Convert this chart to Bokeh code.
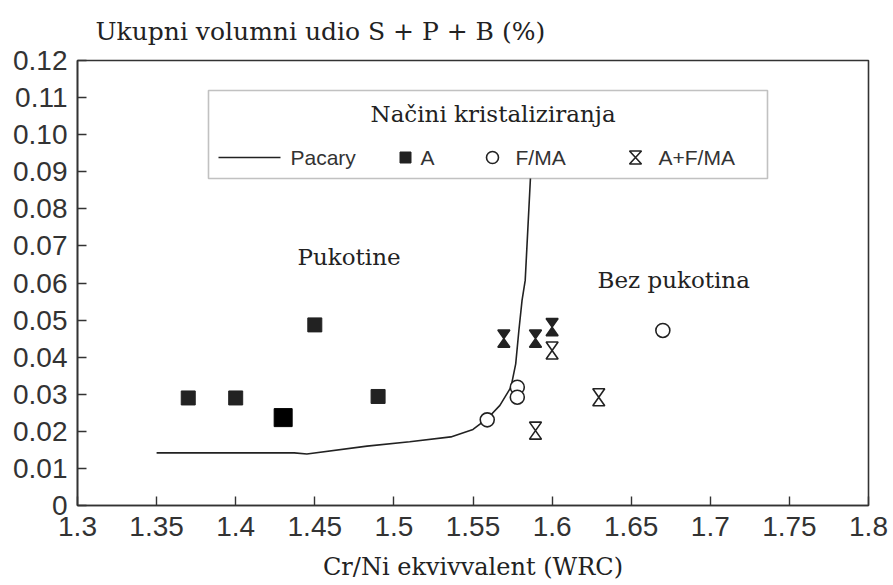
from bokeh.plotting import figure
from bokeh.models import Label, FixedTicker, Range1d, BoxAnnotation, ColumnDataSource, Title
from bokeh.embed import file_html
from bokeh.resources import INLINE

# ---------------- data ----------------
# Pacary boundary line
pacary_x = [1.35, 1.437, 1.445, 1.483, 1.51, 1.536, 1.55, 1.559, 1.567, 1.574, 1.577, 1.579, 1.581, 1.583, 1.5863]
pacary_y = [0.0142, 0.0142, 0.0139, 0.0160, 0.0172, 0.0185, 0.0205, 0.0234, 0.0270, 0.0319, 0.0382, 0.0472, 0.0553, 0.0607, 0.0882]

# A (austenitic)
a_x = [1.37, 1.40, 1.45, 1.49]
a_y = [0.0290, 0.0290, 0.0487, 0.0294]
a_big_x = [1.43]
a_big_y = [0.0237]

# F/MA
fma_x = [1.559, 1.578, 1.578, 1.670]
fma_y = [0.0231, 0.0319, 0.0292, 0.0472]

# A+F/MA
afma_x = [1.5695, 1.5895, 1.600, 1.600, 1.6295, 1.5895]
afma_y = [0.0450, 0.0450, 0.0481, 0.0418, 0.0292, 0.0202]
afma_filled = [True, True, True, False, False, False]

x_ticks = [1.3, 1.35, 1.4, 1.45, 1.5, 1.55, 1.6, 1.65, 1.7, 1.75, 1.8]
x_tick_labels = ["1.3", "1.35", "1.4", "1.45", "1.5", "1.55", "1.6", "1.65", "1.7", "1.75", "1.8"]
y_ticks = [0, 0.01, 0.02, 0.03, 0.04, 0.05, 0.06, 0.07, 0.08, 0.09, 0.1, 0.11, 0.12]
y_tick_labels = ["0", "0.01", "0.02", "0.03", "0.04", "0.05", "0.06", "0.07", "0.08", "0.09", "0.10", "0.11", "0.12"]

title_text = "Ukupni volumni udio S + P + B (%)"
xlabel_text = "Cr/Ni ekvivvalent (WRC)"
legend_title = "Načini kristaliziranja"
legend_labels = ["Pacary", "A", "F/MA", "A+F/MA"]
region_left = "Pukotine"
region_right = "Bez pukotina"

# ---------------- layout ----------------
W, H = 893, 585
BL, BR, BT, BB = 77, 25, 60, 80
X0, X1, Y0, Y1 = 1.3, 1.8, 0.0, 0.12
SX = (W - BL - BR) / (X1 - X0)   # px per data unit
SY = (H - BT - BB) / (Y1 - Y0)


def dx(px):
    """canvas x pixel -> data x"""
    return X0 + (px - BL) / SX


def dy(py):
    """canvas y pixel -> data y"""
    return (H - BB - py) / SY


SERIF = "DejaVu Serif"
SANS = "Liberation Sans"
INK = "#222222"

p = figure(width=W, height=H, x_range=Range1d(X0, X1), y_range=Range1d(Y0, Y1),
           output_backend="svg", toolbar_location=None, title=None,
           min_border_left=BL, min_border_right=BR, min_border_top=BT, min_border_bottom=BB)
p.background_fill_color = "white"
p.border_fill_color = "white"
p.outline_line_color = "#333333"
p.outline_line_width = 1.6
p.grid.visible = False

# spacer (nearest the frame) then the title text (acts as the y-axis label)
p.add_layout(Title(text=" ", text_font_size="10px", standoff=0), "above")
p.add_layout(Title(text=title_text, text_font=SERIF, text_font_size="25px",
                   text_font_style="normal", text_color=INK, align="left",
                   offset=18, standoff=4), "above")

for ax, ticks, labels, standoff in ((p.xaxis[0], x_ticks, x_tick_labels, 11),
                                     (p.yaxis[0], y_ticks, y_tick_labels, 10)):
    ax.ticker = FixedTicker(ticks=ticks)
    ax.major_label_overrides = {t: l for t, l in zip(ticks, labels)}
    ax.axis_line_color = "#333333"
    ax.axis_line_width = 1.6
    ax.major_tick_in = 9
    ax.major_tick_out = 0
    ax.major_tick_line_color = "#333333"
    ax.major_tick_line_width = 1.4
    ax.minor_tick_line_color = None
    ax.major_label_text_font = SANS
    ax.major_label_text_font_size = "28px"
    ax.major_label_text_color = "#333333"
    ax.major_label_standoff = standoff

p.xaxis.axis_label = xlabel_text
p.xaxis.axis_label_text_font = SERIF
p.xaxis.axis_label_text_font_size = "24px"
p.xaxis.axis_label_text_font_style = "normal"
p.xaxis.axis_label_text_color = INK
p.xaxis.axis_label_standoff = 14

# Pacary line
p.line(pacary_x, pacary_y, line_color=INK, line_width=1.6)

# A squares
p.scatter(a_x, a_y, marker="square", size=14, fill_color=INK, line_color=INK)
p.scatter(a_big_x, a_big_y, marker="square", size=18, fill_color="black", line_color="black")

# F/MA circles
p.scatter(fma_x, fma_y, marker="circle", size=14, fill_color="white", line_color=INK, line_width=1.6)

# A+F/MA hourglasses (bowtie polygons built from centres)
HW = 12 / SX / 2
HH = 17 / SY / 2
hx, hy, hf = [], [], []
for x, y, f in zip(afma_x, afma_y, afma_filled):
    hx.append([x - HW, x + HW, x - HW, x + HW])
    hy.append([y + HH, y + HH, y - HH, y - HH])
    hf.append(INK if f else "white")
p.patches(xs="xs", ys="ys", fill_color="fc", line_color=INK, line_width=1.6,
          source=ColumnDataSource(dict(xs=hx, ys=hy, fc=hf)))

# ---------------- legend (manual) ----------------
p.add_layout(BoxAnnotation(left=dx(208), right=dx(767), top=dy(90), bottom=dy(178),
                           fill_alpha=0, line_color="#333333", line_width=1.6))
p.add_layout(Label(x=dx(370), y=dy(113), text=legend_title, text_font=SERIF,
                   text_font_size="23px", text_color=INK, text_baseline="middle"))
ly = dy(157)
p.line([dx(218), dx(280)], [ly, ly], line_color=INK, line_width=1.6)
p.scatter([dx(405)], [ly], marker="square", size=11, fill_color=INK, line_color=INK)
p.scatter([dx(492)], [ly], marker="circle", size=12, fill_color="white", line_color=INK, line_width=1.6)
lhw, lhh = 12 / SX / 2, 13 / SY / 2
lx = dx(635)
p.patch([lx - lhw, lx + lhw, lx - lhw, lx + lhw], [ly + lhh, ly + lhh, ly - lhh, ly - lhh],
        fill_color="white", line_color=INK, line_width=1.6)
for px, t in zip([290, 420, 515, 658], legend_labels):
    p.add_layout(Label(x=dx(px), y=ly, text=t, text_font=SANS, text_font_size="21px",
                       text_color="#333333", text_baseline="middle"))

# ---------------- region texts ----------------
p.add_layout(Label(x=dx(297), y=dy(256), text=region_left, text_font=SERIF, text_font_size="23px",
                   text_color=INK, text_baseline="middle"))
p.add_layout(Label(x=dx(597), y=dy(279), text=region_right, text_font=SERIF, text_font_size="23px",
                   text_color=INK, text_baseline="middle"))

open("out.html", "w").write(file_html(p, INLINE))
